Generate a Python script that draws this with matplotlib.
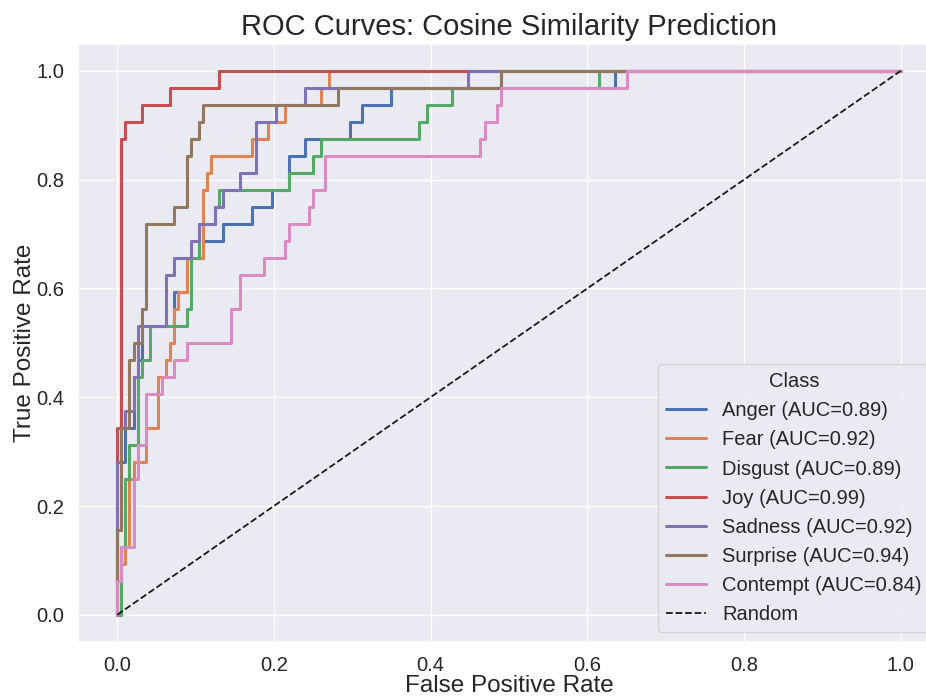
import matplotlib
matplotlib.use("Agg")
import matplotlib.pyplot as plt
import seaborn as sns
import numpy as np

# counts of negatives (false positives) and positives (true positives) at each ROC vertex
N_NEG = 192
N_POS = 32

classes = ["Anger", "Fear", "Disgust", "Joy", "Sadness", "Surprise", "Contempt"]
aucs = [0.89, 0.92, 0.89, 0.99, 0.92, 0.94, 0.84]

anger_fp = [0, 0, 2, 2, 4, 4, 5, 5, 6, 6, 14, 14, 17, 17, 21, 21, 26, 26, 33, 33, 38, 38, 42, 42, 46, 46, 57, 57, 60, 60, 67, 67, 122, 122, 192]
anger_tp = [0, 9, 9, 11, 11, 14, 14, 15, 15, 17, 17, 19, 19, 21, 21, 22, 22, 23, 23, 24, 24, 25, 25, 27, 27, 28, 28, 29, 29, 30, 30, 31, 31, 32, 32]

fear_fp = [0, 1, 1, 2, 2, 3, 3, 4, 4, 7, 7, 10, 10, 12, 12, 13, 13, 14, 14, 15, 15, 17, 17, 21, 21, 22, 22, 23, 23, 33, 33, 37, 37, 41, 41, 50, 50, 52, 52, 192]
fear_tp = [0, 0, 3, 3, 4, 4, 8, 8, 9, 9, 11, 11, 14, 14, 15, 15, 16, 16, 18, 18, 19, 19, 21, 21, 25, 25, 26, 26, 27, 27, 28, 28, 29, 29, 30, 30, 31, 31, 32, 32]

disgust_fp = [0, 1, 1, 2, 2, 3, 3, 5, 5, 6, 6, 8, 8, 17, 17, 18, 18, 20, 20, 24, 24, 25, 25, 42, 42, 48, 48, 50, 50, 74, 74, 76, 76, 82, 82, 118, 118, 192]
disgust_tp = [0, 0, 4, 4, 8, 8, 10, 10, 14, 14, 15, 15, 17, 17, 18, 18, 21, 21, 23, 23, 24, 24, 25, 25, 26, 26, 27, 27, 28, 28, 29, 29, 30, 30, 31, 31, 32, 32]

joy_fp = [0, 0, 1, 1, 2, 2, 6, 6, 13, 13, 25, 25, 192]
joy_tp = [0, 11, 11, 28, 28, 29, 29, 30, 30, 31, 31, 32, 32]

sadness_fp = [0, 0, 1, 1, 2, 2, 4, 4, 5, 5, 12, 12, 14, 14, 18, 18, 20, 20, 24, 24, 26, 26, 30, 30, 34, 34, 39, 39, 46, 46, 86, 86, 192]
sadness_tp = [0, 9, 9, 11, 11, 12, 12, 14, 14, 17, 17, 20, 20, 21, 21, 22, 22, 23, 23, 24, 24, 25, 25, 26, 26, 29, 29, 30, 30, 31, 31, 32, 32]

surprise_fp = [0, 0, 1, 1, 3, 3, 4, 4, 6, 6, 7, 7, 14, 14, 17, 17, 18, 18, 20, 20, 21, 21, 54, 54, 94, 94, 192]
surprise_tp = [0, 5, 5, 11, 11, 15, 15, 16, 16, 18, 18, 23, 23, 24, 24, 27, 27, 28, 28, 29, 29, 30, 30, 31, 31, 32, 32]

contempt_fp = [0, 0, 1, 1, 4, 4, 5, 5, 7, 7, 11, 11, 14, 14, 17, 17, 28, 28, 30, 30, 36, 36, 41, 41, 42, 42, 47, 47, 48, 48, 51, 51, 89, 89, 90, 90, 93, 93, 94, 94, 125, 125, 192]
contempt_tp = [0, 2, 2, 4, 4, 8, 8, 10, 10, 13, 13, 14, 14, 15, 15, 16, 16, 18, 18, 20, 20, 21, 21, 22, 22, 23, 23, 24, 24, 25, 25, 27, 27, 28, 28, 29, 29, 30, 30, 31, 31, 32, 32]

curves = [
    (anger_fp, anger_tp),
    (fear_fp, fear_tp),
    (disgust_fp, disgust_tp),
    (joy_fp, joy_tp),
    (sadness_fp, sadness_tp),
    (surprise_fp, surprise_tp),
    (contempt_fp, contempt_tp),
]

sns.set_theme(style="darkgrid")
plt.rcParams["font.family"] = ["Liberation Sans", "DejaVu Sans"]
colors = sns.color_palette("deep", 7)

fig = plt.figure(figsize=(9.26, 6.97), dpi=100)
ax = fig.add_axes([78 / 926, 55.0 / 697, 862 / 926, 598.4 / 697])

for (fp, tp), name, auc, c in zip(curves, classes, aucs, colors):
    fpr = np.array(fp) / N_NEG
    tpr = np.array(tp) / N_POS
    ax.plot(fpr, tpr, color=c, lw=2.2, label=f"{name} (AUC={auc:.2f})")

ax.plot([0, 1], [0, 1], "k--", lw=1.3, label="Random")

ax.set_xlim(-0.05, 1.05)
ax.set_ylim(-0.05, 1.05)
ax.set_xticks([0.0, 0.2, 0.4, 0.6, 0.8, 1.0])
ax.set_yticks([0.0, 0.2, 0.4, 0.6, 0.8, 1.0])
ax.tick_params(labelsize=14.5, pad=4)
ax.set_xlabel("False Positive Rate", fontsize=17.5, labelpad=0)
ax.set_ylabel("True Positive Rate", fontsize=17.5, labelpad=0)
ax.set_title("ROC Curves: Cosine Similarity Prediction", fontsize=21, pad=6)
leg = ax.legend(title="Class", loc="lower right", fontsize=14.5, title_fontsize=14.5,
                borderaxespad=0.5)

fig.savefig("out.png", dpi=100)
